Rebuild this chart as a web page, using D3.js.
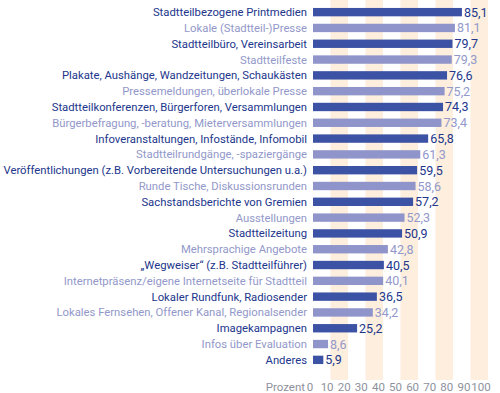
<!DOCTYPE html>
<html>
<head>
<meta charset="utf-8">
<script src="https://cdn.jsdelivr.net/npm/d3@7"></script>
<style>
  body { margin: 0; background: #fff; }
  text { font-family: Roboto, "Noto Sans", sans-serif; }
</style>
</head>
<body>
<div id="chart_wrapper"></div>
<script>
var categories = [
  "Stadtteilbezogene Printmedien",
  "Lokale (Stadtteil-)Presse",
  "Stadtteilbüro, Vereinsarbeit",
  "Stadtteilfeste",
  "Plakate, Aushänge, Wandzeitungen, Schaukästen",
  "Pressemeldungen, überlokale Presse",
  "Stadtteilkonferenzen, Bürgerforen, Versammlungen",
  "Bürgerbefragung, -beratung, Mieterversammlungen",
  "Infoveranstaltungen, Infostände, Infomobil",
  "Stadtteilrundgänge, -spaziergänge",
  "Veröffentlichungen (z.B. Vorbereitende Untersuchungen u.a.)",
  "Runde Tische, Diskussionsrunden",
  "Sachstandsberichte von Gremien",
  "Ausstellungen",
  "Stadtteilzeitung",
  "Mehrsprachige Angebote",
  "\u201EWegweiser\u201C (z.B. Stadtteilführer)",
  "Internetpräsenz/eigene Internetseite für Stadtteil",
  "Lokaler Rundfunk, Radiosender",
  "Lokales Fernsehen, Offener Kanal, Regionalsender",
  "Imagekampagnen",
  "Infos über Evaluation",
  "Anderes"
];
var values = [85.1, 81.1, 79.7, 79.3, 76.6, 75.2, 74.3, 73.4, 65.8, 61.3, 59.5, 58.6,
              57.2, 52.3, 50.9, 42.8, 40.5, 40.1, 36.5, 34.2, 25.2, 8.6, 5.9];
var tickValues = [0, 10, 20, 30, 40, 50, 60, 70, 80, 90, 100];
var axisTitle = "Prozent";

var width = 500, height = 393;
var darkBar = "#3c52a5", lightBar = "#8f95ca";
var darkText = "#22368c", lightText = "#9298ca";
var stripe = "#fdeedd";

var svg = d3.select("#chart_wrapper").append("svg")
    .attr("width", width).attr("height", height);

var x = d3.scaleLinear().domain([0, 100]).range([313, 488]);
// tick labels sit a bit tighter than the bars' scale
var xLab = d3.scaleLinear().domain([0, 100]).range([310, 481]);
var y = d3.scaleBand().domain(d3.range(categories.length))
    .range([4, 368]).paddingInner(0.47).paddingOuter(0.25);

// stripes on odd decades
var bands = [10, 30, 50, 70, 90];
svg.append("g").selectAll("rect")
    .data(bands)
    .enter().append("rect")
      .attr("x", function(d) { return x(d); })
      .attr("width", function(d) { return x(d + 10) - x(d); })
      .attr("y", 0)
      .attr("height", 380)
      .attr("fill", stripe);

var row = svg.append("g").selectAll("g")
    .data(values)
    .enter().append("g");

row.append("rect")
    .attr("x", x(0))
    .attr("y", function(d, i) { return y(i); })
    .attr("width", function(d) { return x(d) - x(0); })
    .attr("height", y.bandwidth())
    .attr("fill", function(d, i) { return i % 2 ? lightBar : darkBar; });

var labels = row.append("text")
    .attr("x", x(0) - 6)
    .attr("y", function(d, i) { return y(i) + y.bandwidth() / 2; })
    .attr("dy", "0.35em")
    .attr("text-anchor", "end")
    .attr("font-size", 12)
    .attr("fill", function(d, i) { return i % 2 ? lightText : darkText; })
    .text(function(d, i) { return categories[i]; });

// fit the longest label into the space left of the bars
var longest = d3.max(labels.nodes(), function(n) { return n.getComputedTextLength(); });
var fs = Math.min(12.5, 12 * 304 / longest);
labels.attr("font-size", fs);

row.append("text")
    .attr("x", function(d) { return x(d) + 2; })
    .attr("y", function(d, i) { return y(i) + y.bandwidth() / 2; })
    .attr("dy", "0.36em")
    .attr("font-size", 12.5)
    .attr("fill", function(d, i) { return i % 2 ? lightText : darkText; })
    .text(function(d) { return d3.format(".1f")(d).replace(".", ","); });

// axis labels
var axis = svg.append("g").attr("transform", "translate(0,387)");
axis.selectAll("text.tick")
    .data(tickValues)
    .enter().append("text")
      .attr("class", "tick")
      .attr("x", function(d) { return xLab(d); })
      .attr("dy", "0.35em")
      .attr("text-anchor", "middle")
      .attr("font-size", 11.5)
      .attr("fill", "#8e919c")
      .text(function(d) { return d; });

axis.append("text")
    .attr("x", xLab(0) - 5)
    .attr("dy", "0.35em")
    .attr("text-anchor", "end")
    .attr("font-size", 11.5)
    .attr("fill", "#8e919c")
    .text(axisTitle);
</script>
</body>
</html>
